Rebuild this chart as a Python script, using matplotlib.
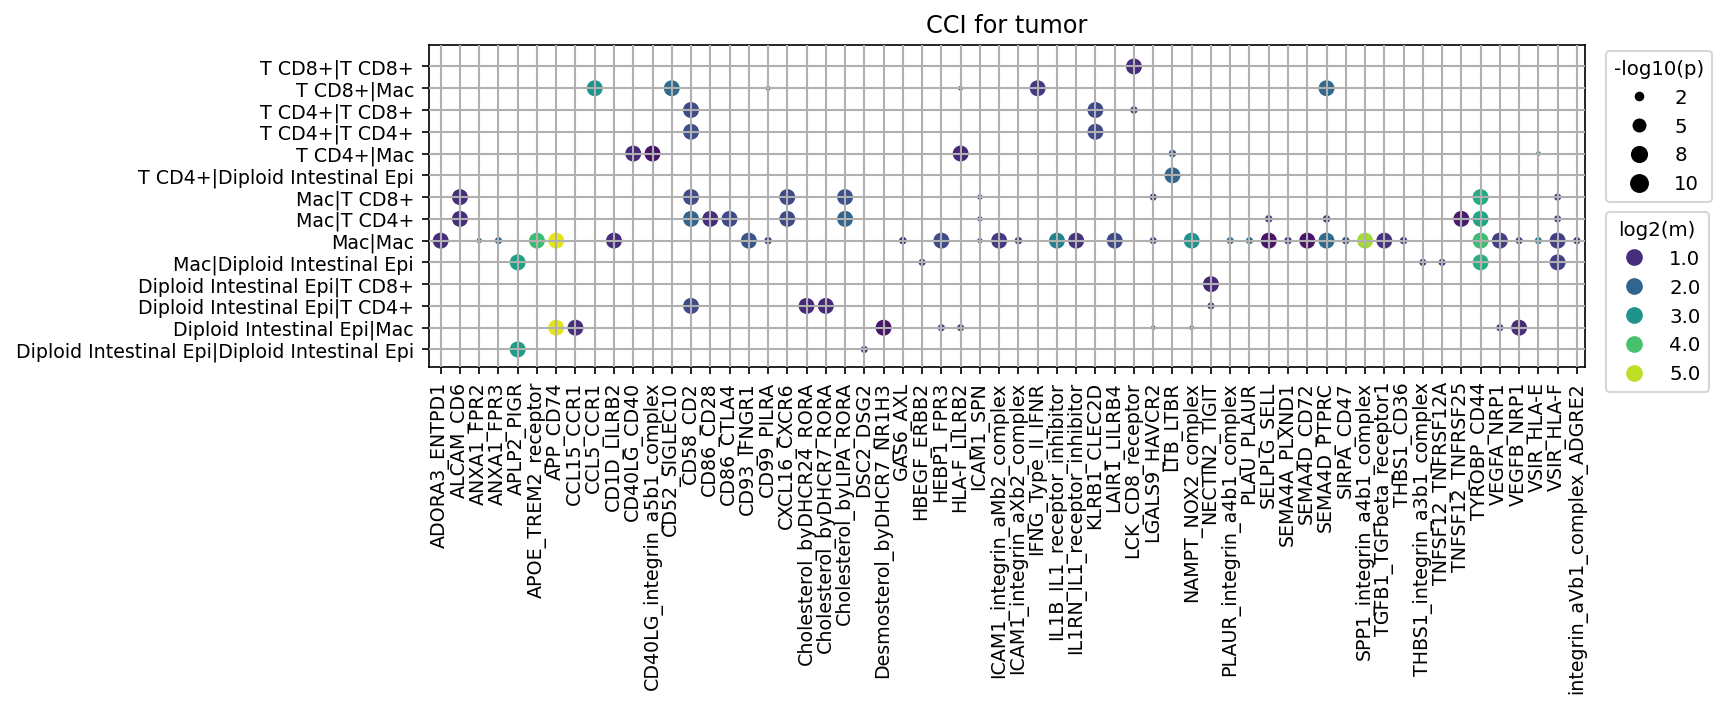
import matplotlib
matplotlib.use("Agg")
import matplotlib.pyplot as plt
from matplotlib.lines import Line2D
from matplotlib.colors import Normalize
import numpy as np

pairs = ["T CD8+|T CD8+", "T CD8+|Mac", "T CD4+|T CD8+", "T CD4+|T CD4+", "T CD4+|Mac",
         "T CD4+|Diploid Intestinal Epi", "Mac|T CD8+", "Mac|T CD4+", "Mac|Mac",
         "Mac|Diploid Intestinal Epi", "Diploid Intestinal Epi|T CD8+",
         "Diploid Intestinal Epi|T CD4+", "Diploid Intestinal Epi|Mac",
         "Diploid Intestinal Epi|Diploid Intestinal Epi"]

lr_pairs = ["ADORA3_ENTPD1", "ALCAM_CD6", "ANXA1_FPR2", "ANXA1_FPR3", "APLP2_PIGR",
            "APOE_TREM2_receptor", "APP_CD74", "CCL15_CCR1", "CCL5_CCR1", "CD1D_LILRB2",
            "CD40LG_CD40", "CD40LG_integrin_a5b1_complex", "CD52_SIGLEC10", "CD58_CD2",
            "CD86_CD28", "CD86_CTLA4", "CD93_IFNGR1", "CD99_PILRA", "CXCL16_CXCR6",
            "Cholesterol_byDHCR24_RORA", "Cholesterol_byDHCR7_RORA", "Cholesterol_byLIPA_RORA",
            "DSC2_DSG2", "Desmosterol_byDHCR7_NR1H3", "GAS6_AXL", "HBEGF_ERBB2", "HEBP1_FPR3",
            "HLA-F_LILRB2", "ICAM1_SPN", "ICAM1_integrin_aMb2_complex",
            "ICAM1_integrin_aXb2_complex", "IFNG_Type_II_IFNR", "IL1B_IL1_receptor_inhibitor",
            "IL1RN_IL1_receptor_inhibitor", "KLRB1_CLEC2D", "LAIR1_LILRB4", "LCK_CD8_receptor",
            "LGALS9_HAVCR2", "LTB_LTBR", "NAMPT_NOX2_complex", "NECTIN2_TIGIT",
            "PLAUR_integrin_a4b1_complex", "PLAU_PLAUR", "SELPLG_SELL", "SEMA4A_PLXND1",
            "SEMA4D_CD72", "SEMA4D_PTPRC", "SIRPA_CD47", "SPP1_integrin_a4b1_complex",
            "TGFB1_TGFbeta_receptor1", "THBS1_CD36", "THBS1_integrin_a3b1_complex",
            "TNFSF12_TNFRSF12A", "TNFSF12_TNFRSF25", "TYROBP_CD44", "VEGFA_NRP1", "VEGFB_NRP1",
            "VSIR_HLA-E", "VSIR_HLA-F", "integrin_aVb1_complex_ADGRE2"]

# per cell-type pair (row): L-R column indices, -log10(p), log2(m)
lr_idx_by_pair = [
    [36],
    [8, 12, 17, 27, 31, 46],
    [13, 34, 36],
    [13, 34],
    [10, 11, 27, 38, 57],
    [38],
    [1, 13, 18, 21, 28, 37, 54, 58],
    [1, 13, 14, 15, 18, 21, 28, 43, 46, 53, 54, 58],
    [0, 2, 3, 5, 6, 9, 16, 17, 24, 26, 28, 29, 30, 32, 33, 35, 37, 39, 41, 42, 43, 44,
     45, 46, 47, 48, 49, 50, 54, 55, 56, 57, 58, 59],
    [4, 25, 51, 52, 54, 58],
    [40],
    [13, 19, 20, 40],
    [6, 7, 23, 26, 27, 37, 39, 55, 56],
    [4, 22],
]
neglog10p_by_pair = [
    [9],
    [9, 9, 0.8, 0.8, 9, 9],
    [9, 9, 2],
    [9, 9],
    [9, 9, 9, 2, 0.8],
    [9],
    [9, 9, 9, 9, 1, 1.8, 9, 1.8],
    [9, 9, 9, 9, 9, 9, 1, 2, 2, 9, 9, 1.8],
    [9, 1, 1.8, 9, 9, 9, 9, 2, 2, 9, 1, 9, 2, 9, 9, 9, 1.8, 9, 1.8, 1.8, 9, 2,
     9, 9, 2, 9, 9, 2, 9, 9, 1.8, 1.8, 9, 1.8],
    [9, 1.8, 1.8, 1.8, 9, 9],
    [9],
    [9, 9, 9, 1.8],
    [9, 9, 9, 1.8, 1.8, 0.8, 0.8, 1.8, 9],
    [9, 1.8],
]
log2m_by_pair = [
    [1.0],
    [3.0, 2.1, 1.5, 1.3, 1.2, 2.1],
    [1.5, 1.5, 1.5],
    [1.6, 1.5],
    [0.9, 0.6, 0.9, 1.8, 2.5],
    [2.0],
    [1.0, 1.5, 1.5, 1.6, 1.5, 1.3, 3.5, 1.3],
    [1.0, 2.0, 1.0, 1.5, 1.5, 2.0, 1.5, 1.2, 1.3, 0.7, 3.4, 1.3],
    [1.0, 2.0, 2.0, 3.9, 5.3, 1.0, 1.7, 1.3, 1.0, 1.5, 1.5, 1.2, 1.3, 2.6, 1.1, 1.5,
     1.5, 3.0, 2.2, 2.3, 0.6, 1.2, 0.6, 2.1, 1.5, 4.8, 1.1, 1.3, 3.9, 1.3, 1.3, 2.6,
     1.3, 1.1],
    [3.3, 1.5, 1.3, 1.3, 3.6, 1.3],
    [0.9],
    [1.5, 0.9, 0.9, 1.3],
    [5.3, 1.0, 0.6, 1.5, 1.5, 1.8, 1.8, 1.3, 1.0],
    [3.2, 1.5],
]

size_legend_vals = [2, 5, 8, 10]
color_legend_vals = [1.0, 2.0, 3.0, 4.0, 5.0]

xs, ys, ps, ms = [], [], [], []
for r in range(len(pairs)):
    n = min(len(lr_idx_by_pair[r]), len(neglog10p_by_pair[r]), len(log2m_by_pair[r]))
    xs += lr_idx_by_pair[r][:n]
    ys += [r] * n
    ps += neglog10p_by_pair[r][:n]
    ms += log2m_by_pair[r][:n]

SCALE = 6.5
cmap = plt.get_cmap("viridis")
norm = Normalize(vmin=0.33, vmax=5.52)

fig = plt.figure(figsize=(11.52, 4.71), dpi=150)
ax = fig.add_axes([0.248, 0.48, 0.669, 0.456])

ax.scatter(xs, ys, s=np.array(ps) * SCALE, c=ms, cmap=cmap, norm=norm,
           linewidths=0, zorder=1)

ax.set_xticks(range(len(lr_pairs)))
ax.set_xticklabels(lr_pairs, rotation=90, fontsize=9.1)
ax.set_yticks(range(len(pairs)))
ax.set_yticklabels(pairs, fontsize=9.1)
ax.set_xlim(-0.63, len(lr_pairs) - 0.6)
ax.set_ylim(len(pairs) - 0.2, -1.0)
ax.grid(True, color="#b0b0b0", linewidth=1.0, zorder=3)
ax.set_axisbelow(False)
ax.set_title("CCI for tumor", fontsize=11.5)

h1 = [Line2D([], [], marker="o", linestyle="", color="black",
             markersize=np.sqrt(v * SCALE)) for v in size_legend_vals]
leg1 = ax.legend(h1, [str(v) for v in size_legend_vals], title="-log10(p)",
                 loc="upper left", bbox_to_anchor=(1.01, 1.01), fontsize=9.5,
                 title_fontsize=9.5, frameon=True)
ax.add_artist(leg1)
h2 = [Line2D([], [], marker="o", linestyle="", color=cmap(norm(v)), markersize=7)
      for v in color_legend_vals]
ax.legend(h2, [f"{v:.1f}" for v in color_legend_vals], title="log2(m)",
          loc="upper left", bbox_to_anchor=(1.01, 0.51), fontsize=9.5,
          title_fontsize=9.5, frameon=True)

fig.savefig("out.png", dpi=150)
